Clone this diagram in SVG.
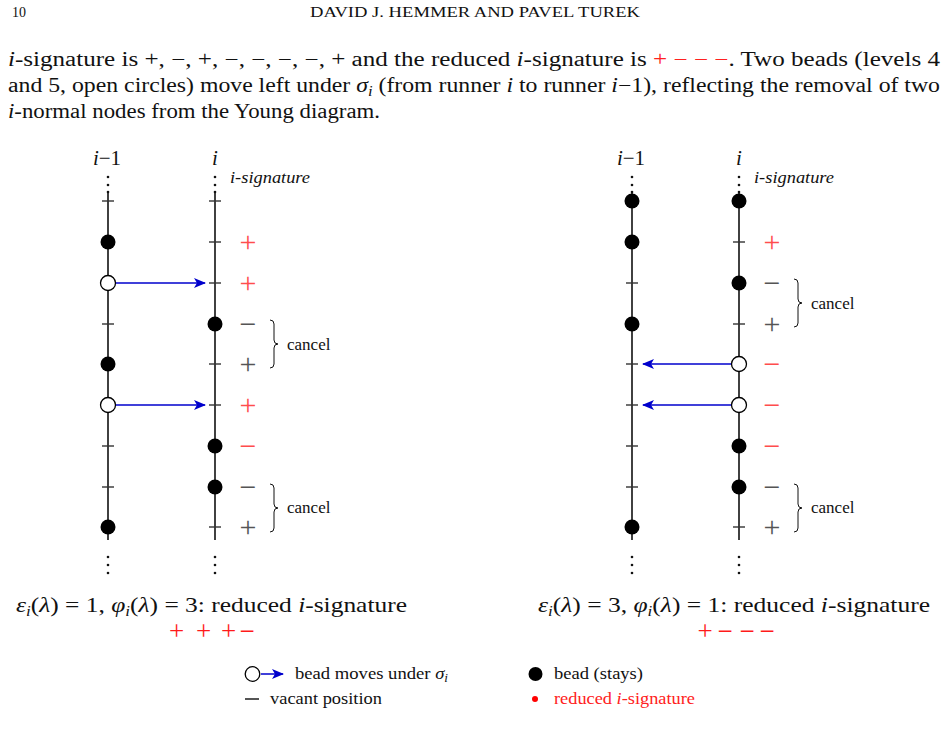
<svg xmlns="http://www.w3.org/2000/svg" width="947" height="741" viewBox="0 0 947 741">
<defs>
<style>
text{font-family:"Liberation Serif","Times New Roman",serif;fill:#111}
.hdr{font-size:14px}
.body{font-size:20px}
.it{font-style:italic}
.red{fill:#ff2020}
.lbl{font-size:21px}
.sig{font-size:16px;font-style:italic}
.sgn{font-size:30px;text-anchor:middle}
.sr{fill:#ff4d4d}
.sg{fill:#555}
.cancel{font-size:17px}
.cap{font-size:21px}
.csg{font-size:27px;text-anchor:middle;fill:#ff1a1a}
.leg{font-size:17px}
.runner{stroke:#111;stroke-width:1.6;fill:none}
.tick{stroke:#333;stroke-width:1.4}
.dot{fill:#111}
.bead{fill:#000}
.open{fill:#fff;stroke:#000;stroke-width:1.3}
.mv{stroke:#0000cc;stroke-width:1.6;fill:none}
.brace{stroke:#111;stroke-width:1;fill:none}
</style>
<marker id="ah" viewBox="0 0 12 10" refX="11" refY="5" markerWidth="12" markerHeight="10" markerUnits="userSpaceOnUse" orient="auto">
<path d="M0,0 L12,5 L0,10 L3,5 Z" fill="#0000cc"/>
</marker>
<g id="dotsTop"><circle cx="0" cy="177" r="1.3"/><circle cx="0" cy="185" r="1.3"/><circle cx="0" cy="192" r="1.3"/></g>
<g id="dotsBot"><circle cx="0" cy="557" r="1.3"/><circle cx="0" cy="565" r="1.3"/><circle cx="0" cy="573" r="1.3"/></g>
</defs>
<rect width="947" height="741" fill="#fff"/>

<g id="header">
<text class="hdr" x="12" y="17">10</text>
<text class="hdr" x="475" y="17" text-anchor="middle" textLength="330" lengthAdjust="spacingAndGlyphs">DAVID J. HEMMER AND PAVEL TUREK</text>
</g>

<g id="paragraph">
<text class="body" x="8" y="66" textLength="932" lengthAdjust="spacingAndGlyphs"><tspan class="it">i</tspan>-signature is +, −, +, −, −, −, −, + and the reduced <tspan class="it">i</tspan>-signature is <tspan class="red">+ − − −</tspan>. Two beads (levels 4</text>
<text class="body" x="8" y="92" textLength="932" lengthAdjust="spacingAndGlyphs">and 5, open circles) move left under <tspan class="it">σ</tspan><tspan class="it" font-size="14" dy="4">i</tspan><tspan dy="-4"> (from runner </tspan><tspan class="it">i</tspan> to runner <tspan class="it">i</tspan>−1), reflecting the removal of two</text>
<text class="body" x="8" y="118" textLength="372" lengthAdjust="spacingAndGlyphs"><tspan class="it">i</tspan>-normal nodes from the Young diagram.</text>
</g>

<!-- LEFT DIAGRAM -->
<g id="left-runner-im1">
<text class="lbl" x="107" y="165" text-anchor="middle"><tspan class="it">i</tspan>−1</text>
<use href="#dotsTop" x="108" class="dot"/>
<line class="runner" x1="108" y1="192" x2="108" y2="540"/>
<line class="tick" x1="102" y1="201" x2="114" y2="201"/>
<circle class="bead" cx="108" cy="242" r="7.5"/>
<circle class="open" cx="108" cy="283" r="7.5"/>
<line class="tick" x1="102" y1="324" x2="114" y2="324"/>
<circle class="bead" cx="108" cy="364" r="7.5"/>
<circle class="open" cx="108" cy="405" r="7.5"/>
<line class="tick" x1="102" y1="446" x2="114" y2="446"/>
<line class="tick" x1="102" y1="487" x2="114" y2="487"/>
<circle class="bead" cx="108" cy="527" r="7.5"/>
<use href="#dotsBot" x="108" class="dot"/>
</g>

<g id="left-runner-i">
<text class="lbl it" x="215" y="165" text-anchor="middle">i</text>
<text class="sig" x="230" y="183" textLength="80" lengthAdjust="spacingAndGlyphs">i-signature</text>
<use href="#dotsTop" x="215" class="dot"/>
<line class="runner" x1="215" y1="192" x2="215" y2="540"/>
<line class="tick" x1="209" y1="201" x2="221" y2="201"/>
<line class="tick" x1="209" y1="242" x2="221" y2="242"/>
<line class="tick" x1="209" y1="283" x2="221" y2="283"/>
<circle class="bead" cx="215" cy="324" r="7.5"/>
<line class="tick" x1="209" y1="364" x2="221" y2="364"/>
<line class="tick" x1="209" y1="405" x2="221" y2="405"/>
<circle class="bead" cx="215" cy="446" r="7.5"/>
<circle class="bead" cx="215" cy="487" r="7.5"/>
<line class="tick" x1="209" y1="527" x2="221" y2="527"/>
<use href="#dotsBot" x="215" class="dot"/>
</g>

<g id="left-signature">
<text class="sgn sr" x="248" y="252">+</text>
<text class="sgn sr" x="248" y="293">+</text>
<text class="sgn sg" x="248" y="334">−</text>
<text class="sgn sg" x="248" y="374">+</text>
<text class="sgn sr" x="248" y="415">+</text>
<text class="sgn sr" x="248" y="456">−</text>
<text class="sgn sg" x="248" y="497">−</text>
<text class="sgn sg" x="248" y="537">+</text>
</g>

<g id="left-cancel-1">
<path class="brace" d="M270,320 q4,0 4,4 v16 q0,4 4,4 q-4,0 -4,4 v16 q0,4 -4,4"/>
<text class="cancel" x="287" y="350">cancel</text>
</g>
<g id="left-cancel-2">
<path class="brace" d="M270,484 q4,0 4,4 v16 q0,4 4,4 q-4,0 -4,4 v16 q0,4 -4,4"/>
<text class="cancel" x="287" y="513">cancel</text>
</g>

<!-- RIGHT DIAGRAM -->
<g id="right-runner-im1">
<text class="lbl" x="631" y="165" text-anchor="middle"><tspan class="it">i</tspan>−1</text>
<use href="#dotsTop" x="632" class="dot"/>
<line class="runner" x1="632" y1="192" x2="632" y2="540"/>
<circle class="bead" cx="632" cy="201" r="7.5"/>
<circle class="bead" cx="632" cy="242" r="7.5"/>
<line class="tick" x1="626" y1="283" x2="638" y2="283"/>
<circle class="bead" cx="632" cy="324" r="7.5"/>
<line class="tick" x1="626" y1="364" x2="638" y2="364"/>
<line class="tick" x1="626" y1="405" x2="638" y2="405"/>
<line class="tick" x1="626" y1="446" x2="638" y2="446"/>
<line class="tick" x1="626" y1="487" x2="638" y2="487"/>
<circle class="bead" cx="632" cy="527" r="7.5"/>
<use href="#dotsBot" x="632" class="dot"/>
</g>

<g id="right-runner-i">
<text class="lbl it" x="739" y="165" text-anchor="middle">i</text>
<text class="sig" x="754" y="183" textLength="80" lengthAdjust="spacingAndGlyphs">i-signature</text>
<use href="#dotsTop" x="739" class="dot"/>
<line class="runner" x1="739" y1="192" x2="739" y2="540"/>
<circle class="bead" cx="739" cy="201" r="7.5"/>
<line class="tick" x1="733" y1="242" x2="745" y2="242"/>
<circle class="bead" cx="739" cy="283" r="7.5"/>
<line class="tick" x1="733" y1="324" x2="745" y2="324"/>
<circle class="open" cx="739" cy="364" r="7.5"/>
<circle class="open" cx="739" cy="405" r="7.5"/>
<circle class="bead" cx="739" cy="446" r="7.5"/>
<circle class="bead" cx="739" cy="487" r="7.5"/>
<line class="tick" x1="733" y1="527" x2="745" y2="527"/>
<use href="#dotsBot" x="739" class="dot"/>
</g>

<g id="right-signature">
<text class="sgn sr" x="772" y="252">+</text>
<text class="sgn sg" x="772" y="293">−</text>
<text class="sgn sg" x="772" y="334">+</text>
<text class="sgn sr" x="772" y="374">−</text>
<text class="sgn sr" x="772" y="415">−</text>
<text class="sgn sr" x="772" y="456">−</text>
<text class="sgn sg" x="772" y="497">−</text>
<text class="sgn sg" x="772" y="537">+</text>
</g>

<g id="right-cancel-1">
<path class="brace" d="M794,279 q4,0 4,4 v16 q0,4 4,4 q-4,0 -4,4 v16 q0,4 -4,4"/>
<text class="cancel" x="811" y="309">cancel</text>
</g>
<g id="right-cancel-2">
<path class="brace" d="M794,484 q4,0 4,4 v16 q0,4 4,4 q-4,0 -4,4 v16 q0,4 -4,4"/>
<text class="cancel" x="811" y="513">cancel</text>
</g>

<g id="connectors">
<line class="mv" x1="116" y1="283" x2="205" y2="283" marker-end="url(#ah)"/>
<line class="mv" x1="116" y1="405" x2="205" y2="405" marker-end="url(#ah)"/>
<line class="mv" x1="731" y1="364" x2="643" y2="364" marker-end="url(#ah)"/>
<line class="mv" x1="731" y1="405" x2="643" y2="405" marker-end="url(#ah)"/>
</g>

<g id="captions">
<text class="cap" x="16" y="612" textLength="391" lengthAdjust="spacingAndGlyphs"><tspan class="it">ε</tspan><tspan class="it" font-size="14" dy="4">i</tspan><tspan dy="-4">(</tspan><tspan class="it">λ</tspan>) = 1,  <tspan class="it">φ</tspan><tspan class="it" font-size="14" dy="4">i</tspan><tspan dy="-4">(</tspan><tspan class="it">λ</tspan>) = 3:  reduced <tspan class="it">i</tspan>-signature</text>
<g id="caption-left-signs">
<text class="csg" x="176.5" y="640">+</text>
<text class="csg" x="203.5" y="640">+</text>
<text class="csg" x="228.5" y="640">+</text>
<text class="csg" x="247" y="640">−</text>
</g>
<text class="cap" x="538" y="612" textLength="392" lengthAdjust="spacingAndGlyphs"><tspan class="it">ε</tspan><tspan class="it" font-size="14" dy="4">i</tspan><tspan dy="-4">(</tspan><tspan class="it">λ</tspan>) = 3,  <tspan class="it">φ</tspan><tspan class="it" font-size="14" dy="4">i</tspan><tspan dy="-4">(</tspan><tspan class="it">λ</tspan>) = 1:  reduced <tspan class="it">i</tspan>-signature</text>
<g id="caption-right-signs">
<text class="csg" x="705" y="640">+</text>
<text class="csg" x="725" y="640">−</text>
<text class="csg" x="747" y="640">−</text>
<text class="csg" x="767" y="640">−</text>
</g>
</g>

<g id="legend">
<circle class="open" cx="252.5" cy="674" r="7.3"/>
<line x1="261" y1="674" x2="283" y2="674" stroke="#0000cc" stroke-width="1.5" marker-end="url(#ah)"/>
<text class="leg" x="295" y="679" textLength="153" lengthAdjust="spacingAndGlyphs">bead moves under <tspan class="it">σ</tspan><tspan class="it" font-size="12" dy="3">i</tspan></text>
<line x1="245" y1="699" x2="259" y2="699" stroke="#555" stroke-width="2"/>
<text class="leg" x="270" y="704" textLength="112" lengthAdjust="spacingAndGlyphs">vacant position</text>
<circle class="bead" cx="535.5" cy="674" r="7"/>
<text class="leg" x="554" y="679" textLength="89" lengthAdjust="spacingAndGlyphs">bead (stays)</text>
<circle cx="535" cy="699" r="3" fill="#ff0000"/>
<text class="leg red" x="554" y="704" textLength="141" lengthAdjust="spacingAndGlyphs">reduced <tspan class="it">i</tspan>-signature</text>
</g>
</svg>
